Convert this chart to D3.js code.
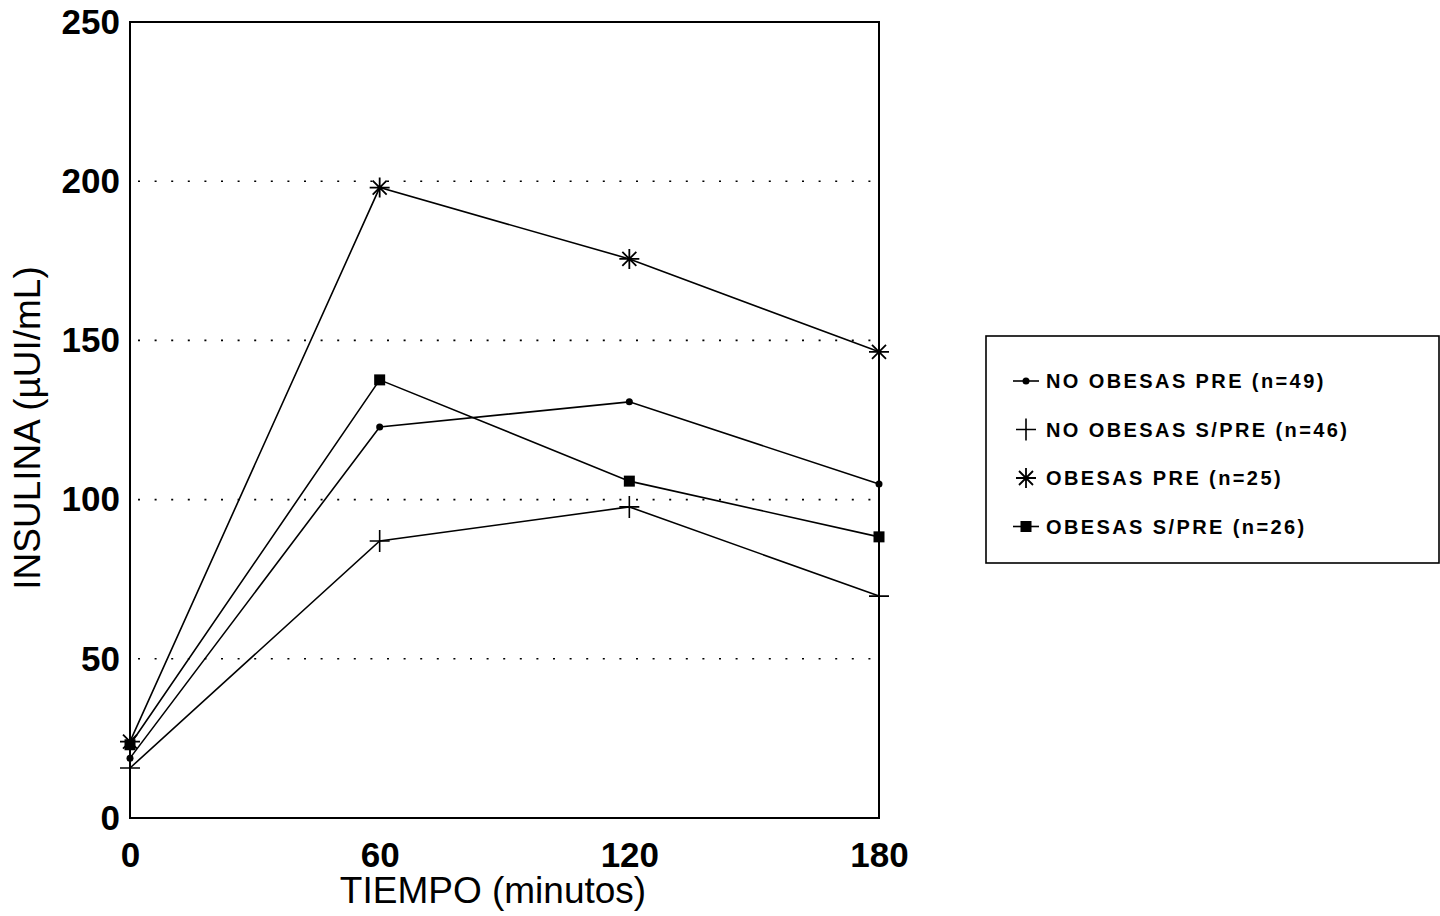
<!DOCTYPE html>
<html>
<head>
<meta charset="utf-8">
<script src="https://cdn.jsdelivr.net/npm/d3@7"></script>
<style>
  body { margin: 0; background: #fff; }
  svg { display: block; font-family: "Liberation Sans", Arial, sans-serif; }
</style>
</head>
<body>
<div id="chart"></div>
<script>
// Données
const tiempos = [0, 60, 120, 180];
const xTicks = [0, 60, 120, 180];
const yTicks = [0, 50, 100, 150, 200, 250];
const gridValues = [50, 100, 150, 200];

const seriesNames = [
  "NO OBESAS PRE (n=49)",
  "NO OBESAS S/PRE (n=46)",
  "OBESAS PRE (n=25)",
  "OBESAS S/PRE (n=26)"
];
const seriesMarkers = ["dot", "plus", "star", "square"];
const noObesasPre = [18.8, 122.8, 130.7, 104.9];
const noObesasSPre = [15.7, 87, 97.7, 69.7];
const obesasPre = [24, 198, 175.6, 146.4];
const obesasSPre = [23, 137.6, 105.8, 88.3];
const seriesValues = [noObesasPre, noObesasSPre, obesasPre, obesasSPre];

const width = 1440, height = 916;
const margin = { top: 22, left: 130, right: 561, bottom: 98 };

const svg = d3.select("#chart").append("svg")
  .attr("width", width)
  .attr("height", height);

const x = d3.scaleLinear().domain([0, 180]).range([margin.left, width - margin.right]);
const y = d3.scaleLinear().domain([0, 250]).range([height - margin.bottom, margin.top]);

// Lignes de grille pointillées
svg.selectAll(".grid")
  .data(gridValues)
  .enter().append("line")
  .attr("x1", x(0) + 8)
  .attr("x2", x(180))
  .attr("y1", d => y(d))
  .attr("y2", d => y(d))
  .attr("stroke", "#000")
  .attr("stroke-width", 1.6)
  .attr("stroke-dasharray", "2 14.6");

// Cadre
svg.append("rect")
  .attr("x", x(0)).attr("y", y(250))
  .attr("width", x(180) - x(0))
  .attr("height", y(0) - y(250))
  .attr("fill", "none")
  .attr("stroke", "#000")
  .attr("stroke-width", 2);

// Axes
const yAxis = svg.append("g")
  .attr("transform", `translate(${x(0)},0)`)
  .call(d3.axisLeft(y).tickValues(yTicks).tickSize(0).tickPadding(10));
yAxis.select(".domain").remove();
yAxis.selectAll("text")
  .style("font-size", "35px")
  .style("font-weight", "bold")
  .style("font-family", "'Liberation Sans', Arial, sans-serif")
  .attr("fill", "#000");

const xAxis = svg.append("g")
  .attr("transform", `translate(0,${y(0)})`)
  .call(d3.axisBottom(x).tickValues(xTicks).tickSize(0).tickPadding(24));
xAxis.select(".domain").remove();
xAxis.selectAll("text")
  .style("font-size", "35px")
  .style("font-weight", "bold")
  .style("font-family", "'Liberation Sans', Arial, sans-serif")
  .attr("fill", "#000");

// Titres des axes
svg.append("text")
  .attr("x", 493)
  .attr("y", 903)
  .attr("text-anchor", "middle")
  .style("font-size", "37px")
  .text("TIEMPO (minutos)");

svg.append("text")
  .attr("transform", `translate(40,428)rotate(-90)`)
  .attr("text-anchor", "middle")
  .style("font-size", "37px")
  .text("INSULINA (µUI/mL)");

// Marqueurs
function drawMarker(g, type) {
  if (type === "dot") {
    g.append("circle").attr("r", 3.5).attr("fill", "#000");
  } else if (type === "plus") {
    g.append("path").attr("d", "M-10,0H10M0,-11V11")
      .attr("stroke", "#000").attr("stroke-width", 1.6).attr("fill", "none");
  } else if (type === "star") {
    g.append("path").attr("d", "M-10,0H10M0,-10V10M-7,-7L7,7M-7,7L7,-7")
      .attr("stroke", "#000").attr("stroke-width", 1.8).attr("fill", "none");
  } else if (type === "square") {
    g.append("rect").attr("x", -5.5).attr("y", -5.5).attr("width", 11).attr("height", 11)
      .attr("fill", "#000");
  }
}

const line = d3.line()
  .x((d, i) => x(tiempos[i]))
  .y(d => y(d));

seriesValues.forEach((vals, s) => {
  svg.append("path")
    .datum(vals)
    .attr("d", line)
    .attr("fill", "none")
    .attr("stroke", "#000")
    .attr("stroke-width", 1.6);

  vals.forEach((v, i) => {
    const g = svg.append("g")
      .attr("transform", `translate(${x(tiempos[i])},${y(v)})`);
    drawMarker(g, seriesMarkers[s]);
  });
});

// Légende
const legend = svg.append("g");
legend.append("rect")
  .attr("x", 986).attr("y", 336)
  .attr("width", 453).attr("height", 227)
  .attr("fill", "none")
  .attr("stroke", "#000")
  .attr("stroke-width", 1.6);

seriesNames.forEach((name, i) => {
  const cy = 381 + i * 48.5;
  const row = legend.append("g").attr("transform", `translate(1026,${cy})`);
  if (seriesMarkers[i] === "dot" || seriesMarkers[i] === "square") {
    row.append("line").attr("x1", -13).attr("x2", 13)
      .attr("stroke", "#000").attr("stroke-width", 1.6);
  }
  drawMarker(row, seriesMarkers[i]);
  legend.append("text")
    .attr("x", 1046)
    .attr("y", cy)
    .attr("dy", "0.36em")
    .style("font-size", "20px")
    .style("font-weight", "bold")
    .style("letter-spacing", "2.4px")
    .text(name);
});
</script>
</body>
</html>
